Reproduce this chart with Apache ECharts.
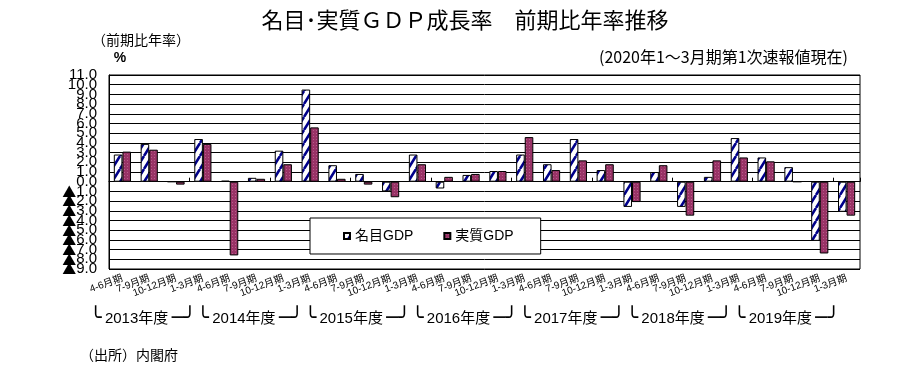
<!DOCTYPE html>
<html>
<head>
<meta charset="utf-8">
<script src="https://cdn.jsdelivr.net/npm/echarts@6/dist/echarts.min.js"></script>
<style>html,body{margin:0;padding:0;background:#fff;}#c{width:917px;height:377px;}</style>
</head>
<body>
<div id="c"></div>
<script>
const quarters = ['4-6月期','7-9月期','10-12月期','1-3月期','4-6月期','7-9月期','10-12月期','1-3月期',
  '4-6月期','7-9月期','10-12月期','1-3月期','4-6月期','7-9月期','10-12月期','1-3月期',
  '4-6月期','7-9月期','10-12月期','1-3月期','4-6月期','7-9月期','10-12月期','1-3月期',
  '4-6月期','7-9月期','10-12月期','1-3月期'];
const years = ['2013年度','2014年度','2015年度','2016年度','2017年度','2018年度','2019年度'];
const nominalGDP = [2.8, 3.9, 0.0, 4.4, 0.1, 0.4, 3.2, 9.5, 1.7, 0.8, -1.0, 2.8, -0.7, 0.7, 1.1, 2.8, 1.8, 4.4, 1.2, -2.6, 1.0, -2.6, 0.5, 4.5, 2.5, 1.5, -6.1, -3.1];
const realGDP = [3.1, 3.3, -0.3, 3.9, -7.6, 0.3, 1.8, 5.6, 0.3, -0.3, -1.6, 1.8, 0.5, 0.8, 1.1, 4.6, 1.2, 2.2, 1.8, -2.1, 1.7, -3.5, 2.2, 2.5, 2.1, 0.0, -7.4, -3.5];
const yTickLabels = ['▲9.0','▲8.0','▲7.0','▲6.0','▲5.0','▲4.0','▲3.0','▲2.0','▲1.0','0.0','1.0','2.0','3.0','4.0','5.0','6.0','7.0','8.0','9.0','10.0','11.0'];
const seriesNames = ['名目GDP','実質GDP'];
const yMin = -9, yMax = 11;

const FF = 'Liberation Sans, "Noto Sans CJK JP", sans-serif';
const FJ = '"Noto Sans CJK JP", sans-serif';

function stripePattern() {
  const c = document.createElement('canvas');
  c.width = 8; c.height = 13;
  const g = c.getContext('2d');
  g.fillStyle = '#fff'; g.fillRect(0, 0, 8, 13);
  g.strokeStyle = '#00008b'; g.lineWidth = 2.6;
  g.beginPath();
  g.moveTo(-8, 13); g.lineTo(0, 0);
  g.moveTo(0, 13); g.lineTo(8, 0);
  g.moveTo(8, 13); g.lineTo(16, 0);
  g.stroke();
  return c;
}
function dotPattern() {
  const c = document.createElement('canvas');
  c.width = 3; c.height = 3;
  const g = c.getContext('2d');
  g.fillStyle = '#993366'; g.fillRect(0, 0, 3, 3);
  g.fillStyle = '#b85c8a'; g.fillRect(1, 1, 1, 1);
  return c;
}
function yLabel(v) {
  const s = yTickLabels[Math.round(v) - yMin];
  return s.charAt(0) === '▲' ? '{m|▲}{n|' + s.slice(1) + '}' : '{n|' + s + '}';
}
const yRich = {
  m: {fontSize: 14, fontFamily: FJ, color: '#000'},
  n: {fontSize: 15, fontFamily: FF, color: '#000'}
};

const chart = echarts.init(document.getElementById('c'), null, {renderer: 'canvas'});
chart.setOption({
  animation: false,
  backgroundColor: '#fff',
  textStyle: {fontFamily: FF, color: '#000'},
  grid: {left: 109, right: 57, top: 75, bottom: 108, show: true, borderColor: '#000', borderWidth: 1},
  legend: {
    data: seriesNames, left: 310, top: 218, orient: 'horizontal',
    itemWidth: 6, itemHeight: 6, itemGap: 30, icon: 'rect',
    padding: [11, 27, 11, 33], backgroundColor: '#fff', borderColor: '#000', borderWidth: 1,
    textStyle: {fontSize: 14, fontFamily: FF, color: '#000'}
  },
  xAxis: [
    {type: 'category', data: quarters, position: 'bottom',
     axisLine: {show: false, onZero: false}, axisTick: {show: false},
     axisLabel: {rotate: 20, fontSize: 10, margin: 9, interval: 0, color: '#000', fontFamily: FF}},
    {type: 'category', data: quarters, position: 'bottom',
     axisLine: {show: true, onZero: true, lineStyle: {color: '#000', width: 1}},
     axisTick: {show: true, inside: true, length: 4, lineStyle: {color: '#000'}},
     axisLabel: {show: false}},
    {type: 'category', data: years, position: 'bottom',
     axisLine: {show: false, onZero: false}, axisTick: {show: false},
     axisLabel: {interval: 0, margin: 40, color: '#000', padding: [0, 40, 0, 0],
       formatter: v => '{b|╰} {t|' + v + '} {b|─╯}',
       rich: {
         b: {fontSize: 20, fontFamily: 'DejaVu Sans', color: '#000', verticalAlign: 'middle'},
         t: {fontSize: 15, fontFamily: FF, color: '#000', verticalAlign: 'middle'}
       }}}
  ],
  yAxis: [
    {type: 'value', min: yMin, max: yMax, interval: 1, position: 'left',
     axisLine: {show: true, lineStyle: {color: '#000'}}, axisTick: {show: false},
     splitLine: {show: true, lineStyle: {color: '#000', width: 1}},
     axisLabel: {margin: 12, color: '#000', showMinLabel: false, showMaxLabel: false,
       formatter: yLabel, rich: yRich}},
    {type: 'value', min: yMin, max: yMax, interval: 1, position: 'left',
     axisLine: {show: false}, axisTick: {show: false}, splitLine: {show: false},
     axisLabel: {margin: 12, color: '#000', showMinLabel: true, showMaxLabel: true,
       formatter: v => (v === yMin || v === yMax) ? yLabel(v) : '', rich: yRich}}
  ],
  series: [
    {name: seriesNames[0], type: 'bar', data: nominalGDP, barGap: '0%', barCategoryGap: '36%',
     itemStyle: {color: {image: stripePattern(), repeat: 'repeat'}, borderColor: '#000', borderWidth: 1}},
    {name: seriesNames[1], type: 'bar', data: realGDP, barGap: '0%', barCategoryGap: '36%',
     itemStyle: {color: {image: dotPattern(), repeat: 'repeat'}, borderColor: '#000', borderWidth: 1}}
  ],
  graphic: [
    {type: 'text', x: 465, y: 20, style: {text: '名目･実質ＧＤＰ成長率　前期比年率推移', font: '22px ' + FJ, fill: '#000', align: 'center', verticalAlign: 'middle'}},
    {type: 'text', x: 92, y: 40, style: {text: '（前期比年率）', font: '14px ' + FJ, fill: '#000', align: 'left', verticalAlign: 'middle'}},
    {type: 'text', x: 120, y: 58, style: {text: '%', font: 'bold 14px ' + FF, fill: '#000', align: 'center', verticalAlign: 'middle'}},
    {type: 'text', x: 848, y: 57, style: {text: '(2020年1～3月期第1次速報値現在)', font: '16px ' + FJ, fill: '#000', align: 'right', verticalAlign: 'middle'}},
    {type: 'text', x: 80, y: 355, style: {text: '（出所）内閣府', font: '14px ' + FJ, fill: '#000', align: 'left', verticalAlign: 'middle'}}
  ]
});
</script>
</body>
</html>
